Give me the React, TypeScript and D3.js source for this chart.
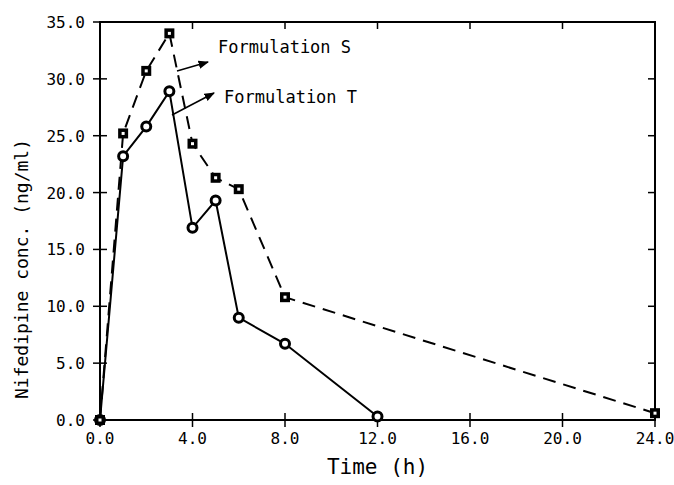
import React from 'react'
import * as d3 from 'd3'

// sampling times (h) and plasma levels (ng/ml)
const timeS = [0, 1, 2, 3, 4, 5, 6, 8, 24]
const concS = [0, 25.2, 30.7, 34.0, 24.3, 21.3, 20.3, 10.8, 0.6]
const timeT = [0, 1, 2, 3, 4, 5, 6, 8, 12]
const concT = [0, 23.2, 25.8, 28.9, 16.9, 19.3, 9.0, 6.7, 0.3]

const xTicks = [0, 4, 8, 12, 16, 20, 24]
const yTicks = [0, 5, 10, 15, 20, 25, 30, 35]

const FONT = '"DejaVu Sans Mono", monospace'

function App() {
  const width = 674,
    height = 485
  const x = d3.scaleLinear().domain([0, 24]).range([100, 655])
  const y = d3.scaleLinear().domain([0, 35]).range([420, 22])

  const line = d3
    .line<[number, number]>()
    .x(d => x(d[0]))
    .y(d => y(d[1]))

  const ptsS: [number, number][] = timeS.map((t, i) => [t, concS[i]])
  const ptsT: [number, number][] = timeT.map((t, i) => [t, concT[i]])

  return (
    <svg
      width={width}
      height={height}
      style={{ position: 'absolute', left: 0, top: 0, background: '#fff' }}
    >
      <defs>
        <marker
          id="arr"
          viewBox="0 0 10 10"
          refX="9"
          refY="5"
          markerWidth="7"
          markerHeight="7"
          orient="auto"
        >
          <path d="M0,1 L10,5 L0,9 z" fill="#000" />
        </marker>
      </defs>

      {/* frame */}
      <rect
        x={x(0)}
        y={y(35)}
        width={x(24) - x(0)}
        height={y(0) - y(35)}
        fill="none"
        stroke="#000"
        strokeWidth={2}
      />

      {/* x ticks */}
      {xTicks.map(t => (
        <g key={'x' + t}>
          <line x1={x(t)} x2={x(t)} y1={y(0) - 7} y2={y(0) + 7} stroke="#000" strokeWidth={1.5} />
          <line x1={x(t)} x2={x(t)} y1={y(35)} y2={y(35) + 7} stroke="#000" strokeWidth={1.5} />
          <text
            x={x(t)}
            y={y(0) + 24}
            textAnchor="middle"
            fontFamily={FONT}
            fontSize={16}
            fill="#000"
          >
            {t.toFixed(1)}
          </text>
        </g>
      ))}

      {/* y ticks */}
      {yTicks.map(v => (
        <g key={'y' + v}>
          <line x1={x(0) - 7} x2={x(0) + 7} y1={y(v)} y2={y(v)} stroke="#000" strokeWidth={1.5} />
          <line x1={x(24) - 7} x2={x(24)} y1={y(v)} y2={y(v)} stroke="#000" strokeWidth={1.5} />
          <text
            x={85}
            y={y(v) + 6}
            textAnchor="end"
            fontFamily={FONT}
            fontSize={16}
            fill="#000"
          >
            {v.toFixed(1)}
          </text>
        </g>
      ))}

      {/* series */}
      <path
        d={line(ptsS) || ''}
        fill="none"
        stroke="#000"
        strokeWidth={2}
        strokeDasharray="13,8"
      />
      <path d={line(ptsT) || ''} fill="none" stroke="#000" strokeWidth={2} />

      {ptsT.map((p, i) => (
        <circle
          key={'t' + i}
          cx={x(p[0])}
          cy={y(p[1])}
          r={4.5}
          fill="#fff"
          stroke="#000"
          strokeWidth={3}
        />
      ))}
      {ptsS.map((p, i) => (
        <g key={'s' + i}>
          <rect
            x={x(p[0]) - 5}
            y={y(p[1]) - 5}
            width={10}
            height={10}
            fill="#000"
          />
          <rect
            x={x(p[0]) - 1.5}
            y={y(p[1]) - 1.5}
            width={3}
            height={3}
            fill="#fff"
          />
        </g>
      ))}

      {/* annotations */}
      <line x1={177} y1={71} x2={208} y2={62} stroke="#000" strokeWidth={1.5} markerEnd="url(#arr)" />
      <text x={218} y={53} fontFamily={FONT} fontSize={17} fill="#000">
        Formulation S
      </text>
      <line x1={172} y1={115} x2={214} y2={93} stroke="#000" strokeWidth={1.5} markerEnd="url(#arr)" />
      <text x={224} y={103} fontFamily={FONT} fontSize={17} fill="#000">
        Formulation T
      </text>

      {/* axis titles */}
      <text
        x={(x(0) + x(24)) / 2}
        y={474}
        textAnchor="middle"
        fontFamily={FONT}
        fontSize={21}
        fill="#000"
      >
        Time (h)
      </text>
      <text
        transform={`translate(28,${(y(0) + y(35)) / 2 + 48}) rotate(-90)`}
        textAnchor="middle"
        fontFamily={FONT}
        fontSize={18}
        fill="#000"
      >
        Nifedipine conc. (ng/ml)
      </text>
    </svg>
  )
}

export default App
